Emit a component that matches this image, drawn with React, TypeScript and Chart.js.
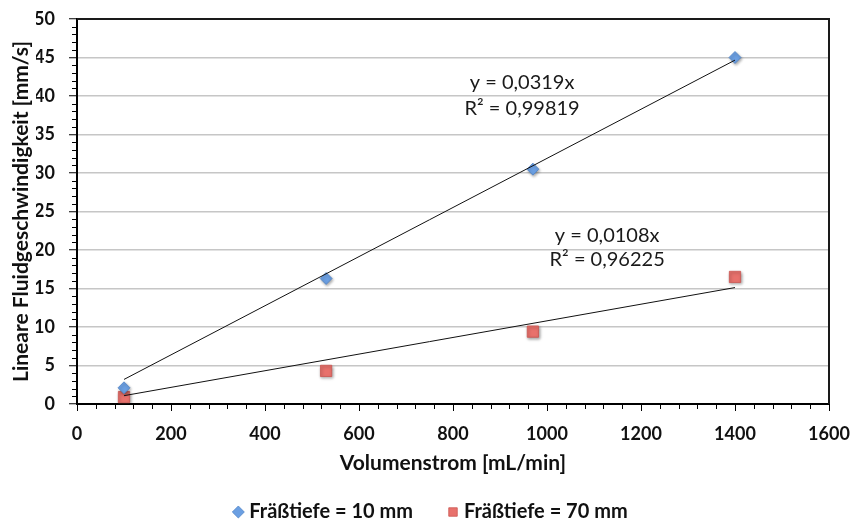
import { useEffect, useRef } from "react";
import { Chart, registerables } from "chart.js";

Chart.register(...registerables);

// Volumenstrom [mL/min]
const flowRates = [100, 530, 970, 1400];
// Lineare Fluidgeschwindigkeit [mm/s]
const speedDepth10 = [2.1, 16.3, 30.5, 45.0];
const speedDepth70 = [0.9, 4.3, 9.4, 16.5];
const seriesNames = ["Fräßtiefe = 10 mm", "Fräßtiefe = 70 mm"];

// linear trend lines through the origin
const trendSlopes = [0.0319, 0.0108];
const trendR2 = ["0,99819", "0,96225"];
const trendSpan = [100, 1400];

const xTickValues = [0, 200, 400, 600, 800, 1000, 1200, 1400, 1600];
const yTickValues = [0, 5, 10, 15, 20, 25, 30, 35, 40, 45, 50];

const FONT = "Lato, 'Noto Sans', sans-serif";

const fmtSlope = (s: number) => "y = " + s.toFixed(4).replace(".", ",") + "x";

// frame on top/right, minor tick marks, shadows and trend equations
const decorations = {
  id: "decorations",
  beforeDatasetDraw(chart: any, args: any) {
    const ds = chart.data.datasets[args.index];
    if (ds.isTrend) return;
    const ctx = chart.ctx;
    ctx.save();
    ctx.shadowColor = "rgba(0,0,0,0.35)";
    ctx.shadowBlur = 3;
    ctx.shadowOffsetX = 1;
    ctx.shadowOffsetY = 1.5;
  },
  afterDatasetDraw(chart: any, args: any) {
    const ds = chart.data.datasets[args.index];
    if (ds.isTrend) return;
    chart.ctx.restore();
  },
  afterDraw(chart: any, _args: any, opts: any) {
    const { ctx, chartArea } = chart;
    const x = chart.scales.x;
    const y = chart.scales.y;
    ctx.save();

    // minor ticks
    ctx.strokeStyle = "#000";
    ctx.lineWidth = 1;
    ctx.beginPath();
    for (let v = x.min; v <= x.max; v += opts.xMinor) {
      if (xTickValues.includes(v)) continue;
      const px = Math.round(x.getPixelForValue(v)) + 0.5;
      ctx.moveTo(px, chartArea.bottom);
      ctx.lineTo(px, chartArea.bottom + 5);
    }
    for (let v = y.min; v <= y.max; v += opts.yMinor) {
      if (yTickValues.includes(v)) continue;
      const py = Math.round(y.getPixelForValue(v)) + 0.5;
      ctx.moveTo(chartArea.left - 5, py);
      ctx.lineTo(chartArea.left, py);
    }
    ctx.stroke();

    // top and right frame
    ctx.strokeStyle = "#1a1a1a";
    ctx.lineWidth = 2;
    ctx.beginPath();
    ctx.moveTo(chartArea.left, chartArea.top);
    ctx.lineTo(chartArea.right, chartArea.top);
    ctx.lineTo(chartArea.right, chartArea.bottom);
    ctx.stroke();

    // trend line equations
    ctx.fillStyle = "#1a1a1a";
    ctx.font = `20px ${FONT}`;
    ctx.textAlign = "center";
    ctx.textBaseline = "middle";
    opts.labels.forEach((lab: any, i: number) => {
      const px = x.getPixelForValue(lab.x);
      ctx.fillText(fmtSlope(trendSlopes[i]), px, y.getPixelForValue(lab.y1));
      ctx.fillText("R² = " + trendR2[i], px, y.getPixelForValue(lab.y2));
    });
    ctx.restore();
  },
};

export default function App() {
  const canvasRef = useRef<HTMLCanvasElement | null>(null);

  useEffect(() => {
    document.body.style.margin = "0";
    const canvas = canvasRef.current;
    if (!canvas) return;

    const trendData = (slope: number) =>
      trendSpan.map((v) => ({ x: v, y: slope * v }));

    const chart = new Chart(canvas, {
      type: "scatter",
      data: {
        datasets: [
          {
            label: seriesNames[0],
            data: flowRates.map((v, i) => ({ x: v, y: speedDepth10[i] })),
            pointStyle: "rectRot",
            pointRadius: 6,
            backgroundColor: "#6b9fe2",
            borderColor: "#5285c8",
            borderWidth: 0.8,
            order: 1,
          },
          {
            label: seriesNames[1],
            data: flowRates.map((v, i) => ({ x: v, y: speedDepth70[i] })),
            pointStyle: "rect",
            pointRadius: 8,
            backgroundColor: "#e8716c",
            borderColor: "#cc5550",
            borderWidth: 0.8,
            order: 1,
          },
          ...trendSlopes.map((s) => ({
            label: "trend",
            isTrend: true,
            data: trendData(s),
            showLine: true,
            pointRadius: 0,
            borderColor: "#111",
            borderWidth: 1,
            order: 0,
          })),
        ] as any,
      },
      options: {
        animation: false,
        responsive: false,
        events: [],
        layout: { padding: { left: 36, right: 25, top: 19, bottom: -11 } },
        scales: {
          x: {
            type: "linear",
            min: 0,
            max: 1600,
            afterBuildTicks: (s: any) => {
              s.ticks = xTickValues.map((v) => ({ value: v }));
            },
            afterFit: (s: any) => {
              s.height = 59;
              s.paddingLeft = 0;
              s.paddingRight = 0;
            },
            grid: {
              drawOnChartArea: false,
              drawTicks: true,
              tickLength: 7,
              tickColor: "#000",
              tickWidth: 1,
            },
            border: { color: "#000", width: 2 },
            ticks: {
              color: "#111",
              padding: 12,
              maxRotation: 0,
              font: { family: FONT, size: 18, weight: "bold" },
              callback: (v: any) => String(v),
            },
            title: {
              display: true,
              text: "Volumenstrom [mL/min]",
              color: "#111",
              font: { family: FONT, size: 21, weight: "bold" },
              padding: { top: 0, bottom: -12.6 },
            },
          },
          y: {
            type: "linear",
            min: 0,
            max: 50,
            afterBuildTicks: (s: any) => {
              s.ticks = yTickValues.map((v) => ({ value: v }));
            },
            afterFit: (s: any) => {
              s.width = 41;
              s.paddingTop = 0;
              s.paddingBottom = 0;
            },
            grid: {
              color: "#c6c6c6",
              lineWidth: 1.5,
              drawTicks: true,
              tickLength: 8,
              tickColor: "#000",
              tickWidth: 1,
            },
            border: { color: "#000", width: 2 },
            ticks: {
              color: "#111",
              padding: 14,
              font: { family: FONT, size: 18, weight: "bold" },
              callback: (v: any) => String(v),
            },
            title: {
              display: true,
              text: "Lineare Fluidgeschwindigkeit [mm/s]",
              color: "#111",
              font: { family: FONT, size: 21, weight: "bold" },
              padding: { top: -27.6, bottom: 0 },
            },
          },
        },
        plugins: {
          tooltip: { enabled: false },
          legend: {
            position: "bottom",
            labels: {
              usePointStyle: true,
              boxWidth: 2,
              boxHeight: 8.5,
              padding: 39,
              color: "#111",
              font: { family: FONT, size: 20, weight: "bold" },
              filter: (item: any, data: any) =>
                !data.datasets[item.datasetIndex].isTrend,
            },
          },
          decorations: {
            xMinor: 40,
            yMinor: 1,
            labels: [
              { x: 947, y1: 41.7, y2: 38.4 },
              { x: 1128, y1: 21.9, y2: 18.7 },
            ],
          },
        } as any,
      },
      plugins: [decorations],
    });

    return () => chart.destroy();
  }, []);

  return (
    <div style={{ position: "fixed", left: 0, top: 0, width: 854, height: 521 }}>
      <canvas ref={canvasRef} width={854} height={521} style={{ display: "block" }} />
    </div>
  );
}
